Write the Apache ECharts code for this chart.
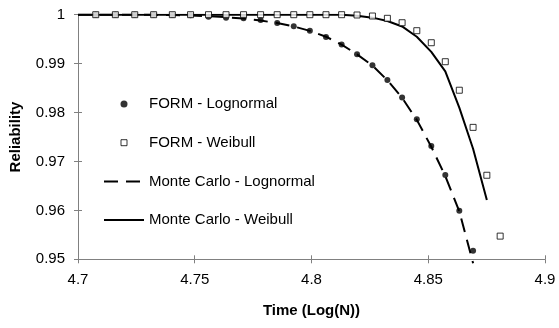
<!DOCTYPE html>
<html>
<head>
<meta charset="utf-8">
<script src="https://cdn.jsdelivr.net/npm/echarts@6/dist/echarts.min.js"></script>
<style>
html,body{margin:0;padding:0;background:#fff;}
#chart{width:559px;height:328px;}
</style>
</head>
<body>
<div id="chart"></div>
<script>
// Time (Log(N)) values of the FORM points
const formX = [4.7076, 4.7160, 4.7243, 4.7324, 4.7404, 4.7482, 4.7559, 4.7634, 4.7709, 4.7782,
  4.7853, 4.7924, 4.7993, 4.8062, 4.8129, 4.8195, 4.8261, 4.8325, 4.8388, 4.8451,
  4.8513, 4.8573, 4.8633, 4.8692, 4.8751, 4.8808];
const formLognormal = [1.0000, 1.0000, 1.0000, 0.99998, 0.99995, 0.99988, 0.9996, 0.99939, 0.99926, 0.9989,
  0.9983, 0.99763, 0.99673, 0.99544, 0.99391, 0.9919, 0.98965, 0.98665, 0.98307, 0.97861,
  0.97315, 0.96722, 0.95992, 0.95174];
const formWeibull = [1, 1, 1, 1, 1, 1, 1, 1, 1, 1,
  1, 1, 1, 1, 1, 0.99994, 0.99973, 0.99926, 0.99836, 0.99673,
  0.99427, 0.99039, 0.98456, 0.97697, 0.96718, 0.95474];
// Monte Carlo curves
const mcX = [4.7000, 4.7076, 4.7160, 4.7243, 4.7324, 4.7404, 4.7482, 4.7559, 4.7634, 4.7709, 4.7782,
  4.7853, 4.7924, 4.7993, 4.8062, 4.8129, 4.8195, 4.8261, 4.8325, 4.8388, 4.8451,
  4.8513, 4.8573, 4.8633, 4.8692, 4.8751];
const mcLognormal = [1, 1, 1, 0.99999, 0.99997, 0.99993, 0.99985, 0.9997, 0.9995, 0.9992, 0.9988,
  0.9983, 0.9976, 0.9967, 0.9955, 0.9939, 0.9919, 0.9896, 0.9866, 0.983, 0.9785,
  0.973, 0.967, 0.9598, 0.9492];
const mcWeibull = [1, 1, 1, 1, 1, 1, 1, 1, 1, 1, 1,
  1, 1, 1, 1, 1, 0.9998, 0.9994, 0.9987, 0.9976, 0.9955,
  0.9924, 0.9884, 0.981, 0.9726, 0.9621];
const xTicks = {min: 4.7, max: 4.9, interval: 0.05};
const yTicks = {min: 0.95, max: 1, interval: 0.01};
const names = ['FORM - Lognormal', 'FORM - Weibull', 'Monte Carlo - Lognormal', 'Monte Carlo - Weibull'];

const pairs = (xs, ys) => ys.map((v, i) => [xs[i], v]);
const FONT = '"Liberation Sans", Arial, sans-serif';
const axisGray = '#808080';
const clear = 'rgba(0,0,0,0)';
// square legend marker inside a 40x7 icon box (invisible move points fix the box)
const squareIcon = 'path://M0,0M40,7M17,0.5L23,0.5L23,6.5L17,6.5Z';

const chart = echarts.init(document.getElementById('chart'), null, {renderer: 'canvas'});
chart.setOption({
  animation: false,
  backgroundColor: '#fff',
  textStyle: {fontFamily: FONT, color: '#000'},
  grid: {left: 77, right: 14, top: 14.7, bottom: 68.7, containLabel: false},
  legend: {
    orient: 'vertical', left: 103, top: 96.5, padding: 0,
    itemWidth: 40, itemHeight: 7, itemGap: 23.7, symbolKeepAspect: true,
    selectedMode: false,
    textStyle: {fontFamily: FONT, fontSize: 15, color: '#000', lineHeight: 15},
    data: [
      {name: names[0], icon: 'circle', itemStyle: {color: '#000'}},
      {name: names[1], icon: squareIcon, itemStyle: {color: '#fff', borderColor: '#000', borderWidth: 1}},
      {name: names[2]},
      {name: names[3]}
    ]
  },
  xAxis: [{
    type: 'value', min: xTicks.min, max: xTicks.max, interval: xTicks.interval,
    name: 'Time (Log(N))', nameLocation: 'middle', nameGap: 44,
    nameTextStyle: {fontFamily: FONT, fontSize: 15, fontWeight: 'bold', color: '#000'},
    axisLine: {show: true, lineStyle: {color: axisGray, width: 1}},
    axisTick: {show: true, length: 4, lineStyle: {color: axisGray}},
    axisLabel: {fontFamily: FONT, fontSize: 15, color: '#000', margin: 13},
    splitLine: {show: false}
  }, {
    type: 'value', position: 'bottom', min: xTicks.min, max: xTicks.max, interval: xTicks.interval,
    axisLine: {show: false}, axisTick: {show: true, inside: true, length: 4, lineStyle: {color: axisGray}},
    axisLabel: {show: false}, splitLine: {show: false}
  }],
  yAxis: [{
    type: 'value', min: yTicks.min, max: yTicks.max, interval: yTicks.interval,
    name: 'Reliability', nameLocation: 'middle', nameGap: 55,
    nameTextStyle: {fontFamily: FONT, fontSize: 15, fontWeight: 'bold', color: '#000'},
    axisLine: {show: true, lineStyle: {color: axisGray, width: 1}},
    axisTick: {show: true, length: 4, lineStyle: {color: axisGray}},
    axisLabel: {fontFamily: FONT, fontSize: 15, color: '#000', margin: 13},
    splitLine: {show: false}
  }, {
    type: 'value', position: 'left', min: yTicks.min, max: yTicks.max, interval: yTicks.interval,
    axisLine: {show: false}, axisTick: {show: true, inside: true, length: 4, lineStyle: {color: axisGray}},
    axisLabel: {show: false}, splitLine: {show: false}
  }],
  series: [
    {
      name: names[0], type: 'scatter', data: pairs(formX, formLognormal),
      symbol: 'circle', symbolSize: 6, z: 5,
      itemStyle: {color: '#000'}
    },
    {
      name: names[1], type: 'scatter', data: pairs(formX, formWeibull),
      symbol: 'rect', symbolSize: 6, symbolKeepAspect: true, z: 5,
      itemStyle: {color: '#fff', borderColor: '#000', borderWidth: 1}
    },
    {
      name: names[2], type: 'line', data: pairs(mcX, mcLognormal),
      showSymbol: false, symbol: 'none', clip: false, z: 3,
      itemStyle: {color: clear, borderColor: clear},
      lineStyle: {color: '#000', width: 2, type: [14, 8]}
    },
    {
      name: names[3], type: 'line', data: pairs(mcX, mcWeibull),
      showSymbol: false, symbol: 'none', z: 3,
      itemStyle: {color: clear, borderColor: clear},
      lineStyle: {color: '#000', width: 2, type: 'solid'}
    }
  ]
});
</script>
</body>
</html>
